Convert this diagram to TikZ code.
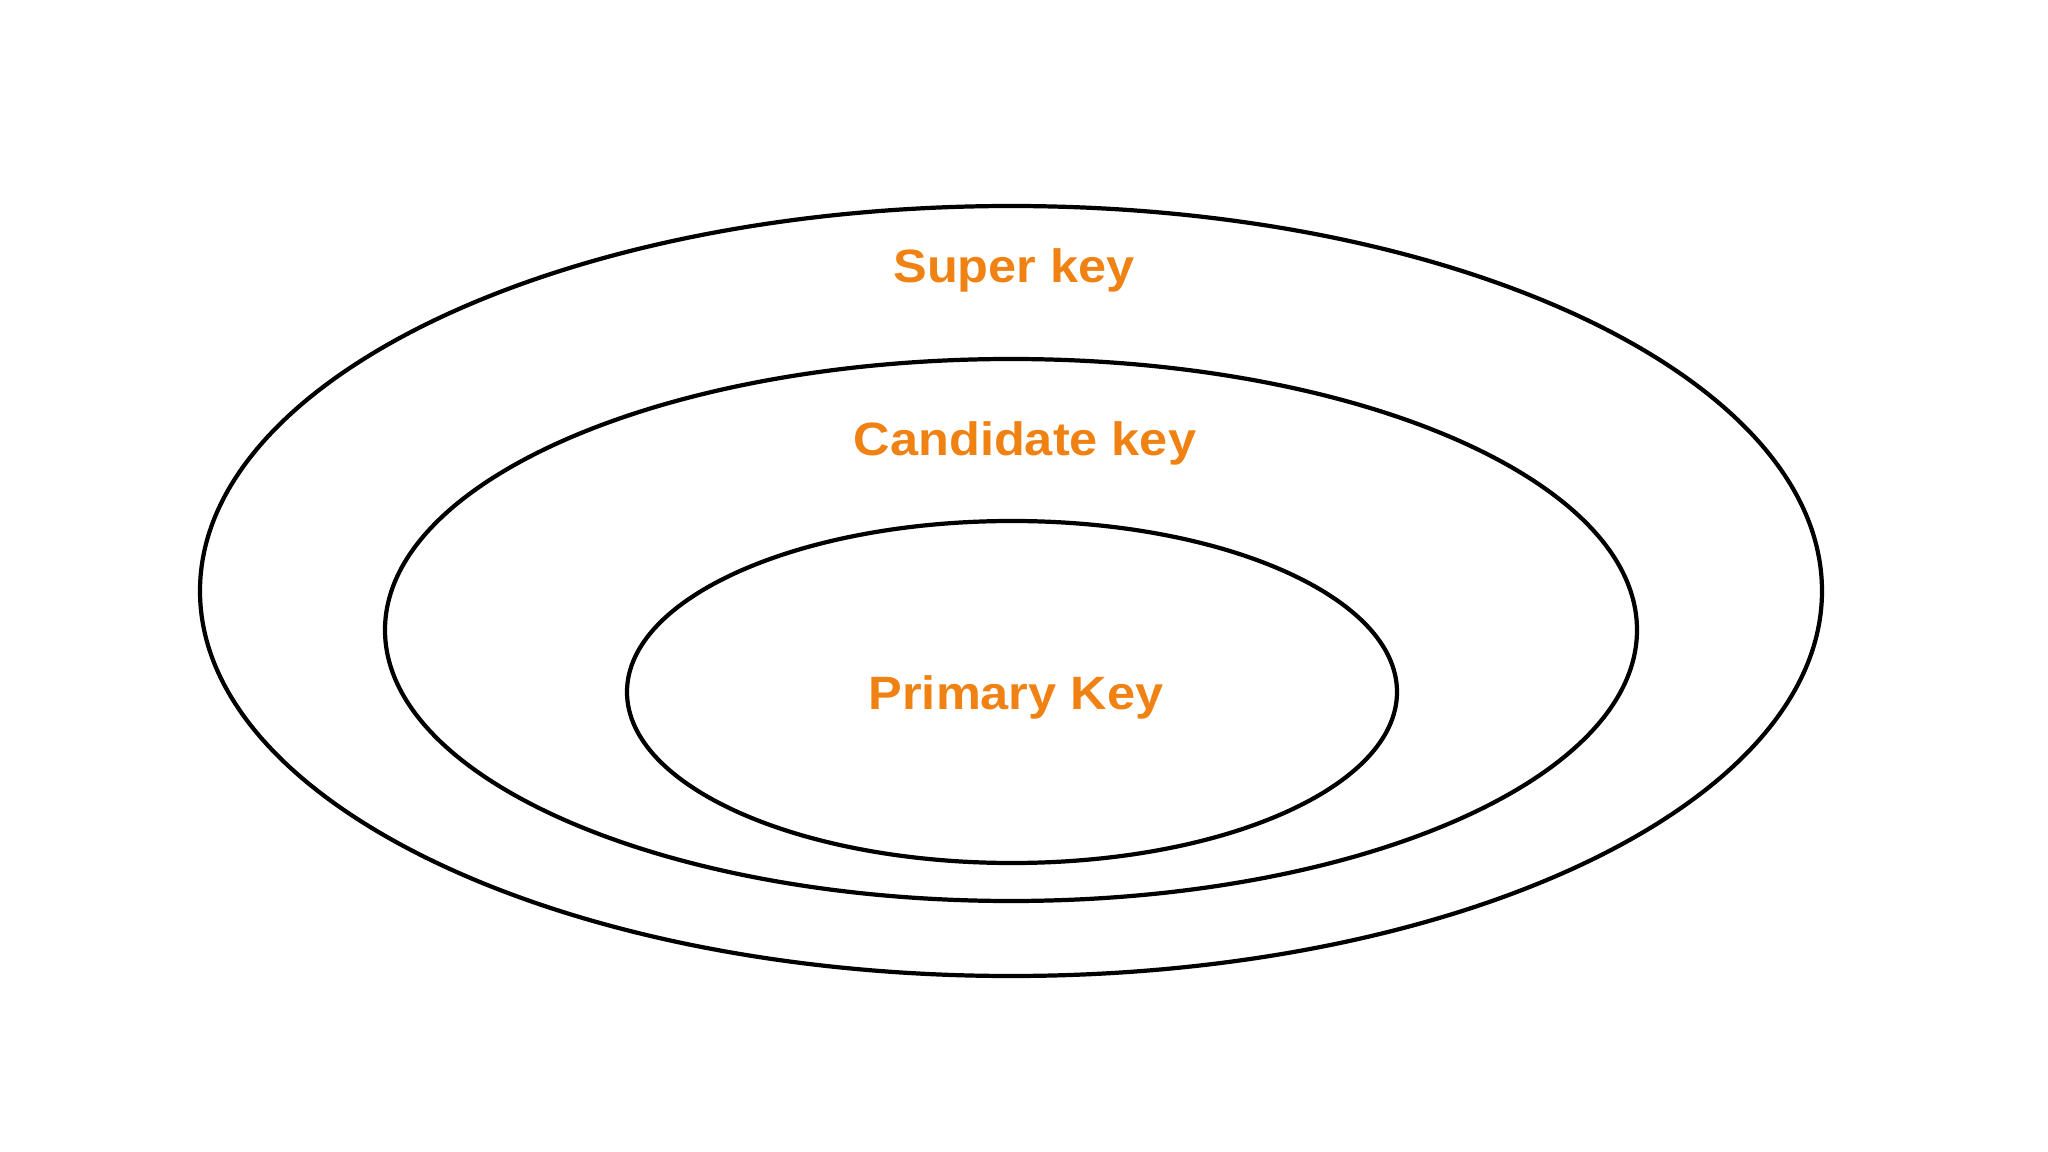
\documentclass[tikz,border=0pt]{standalone}
\usepackage{fontspec}
\setmainfont{Liberation Sans}
\definecolor{keyorange}{RGB}{240,130,20}
\tikzset{
    ring/.style={line width=1.2pt, black},
    keylabel/.style={text=keyorange, font=\fontsize{13.3}{15}\selectfont\bfseries, anchor=base, inner sep=0pt, xscale=1.08}
}
\begin{document}
\begin{tikzpicture}
    \useasboundingbox (0,0) rectangle (20.48,-11.52);
    \coordinate (superc) at (10.11,-5.91);
    \coordinate (candc) at (10.11,-6.30);
    \coordinate (primc) at (10.12,-6.92);
    \draw[ring] (superc) ellipse (8.11 cm and 3.85 cm);
    \draw[ring] (candc) ellipse (6.26 cm and 2.71 cm);
    \draw[ring] (primc) ellipse (3.85 cm and 1.71 cm);
    \node[keylabel] (super) at (10.14,-2.83) {Super key};
    \node[keylabel] (cand) at (10.25,-4.56) {Candidate key};
    \node[keylabel] (prim) at (10.16,-7.09) {Primary Key};
\end{tikzpicture}
\end{document}
